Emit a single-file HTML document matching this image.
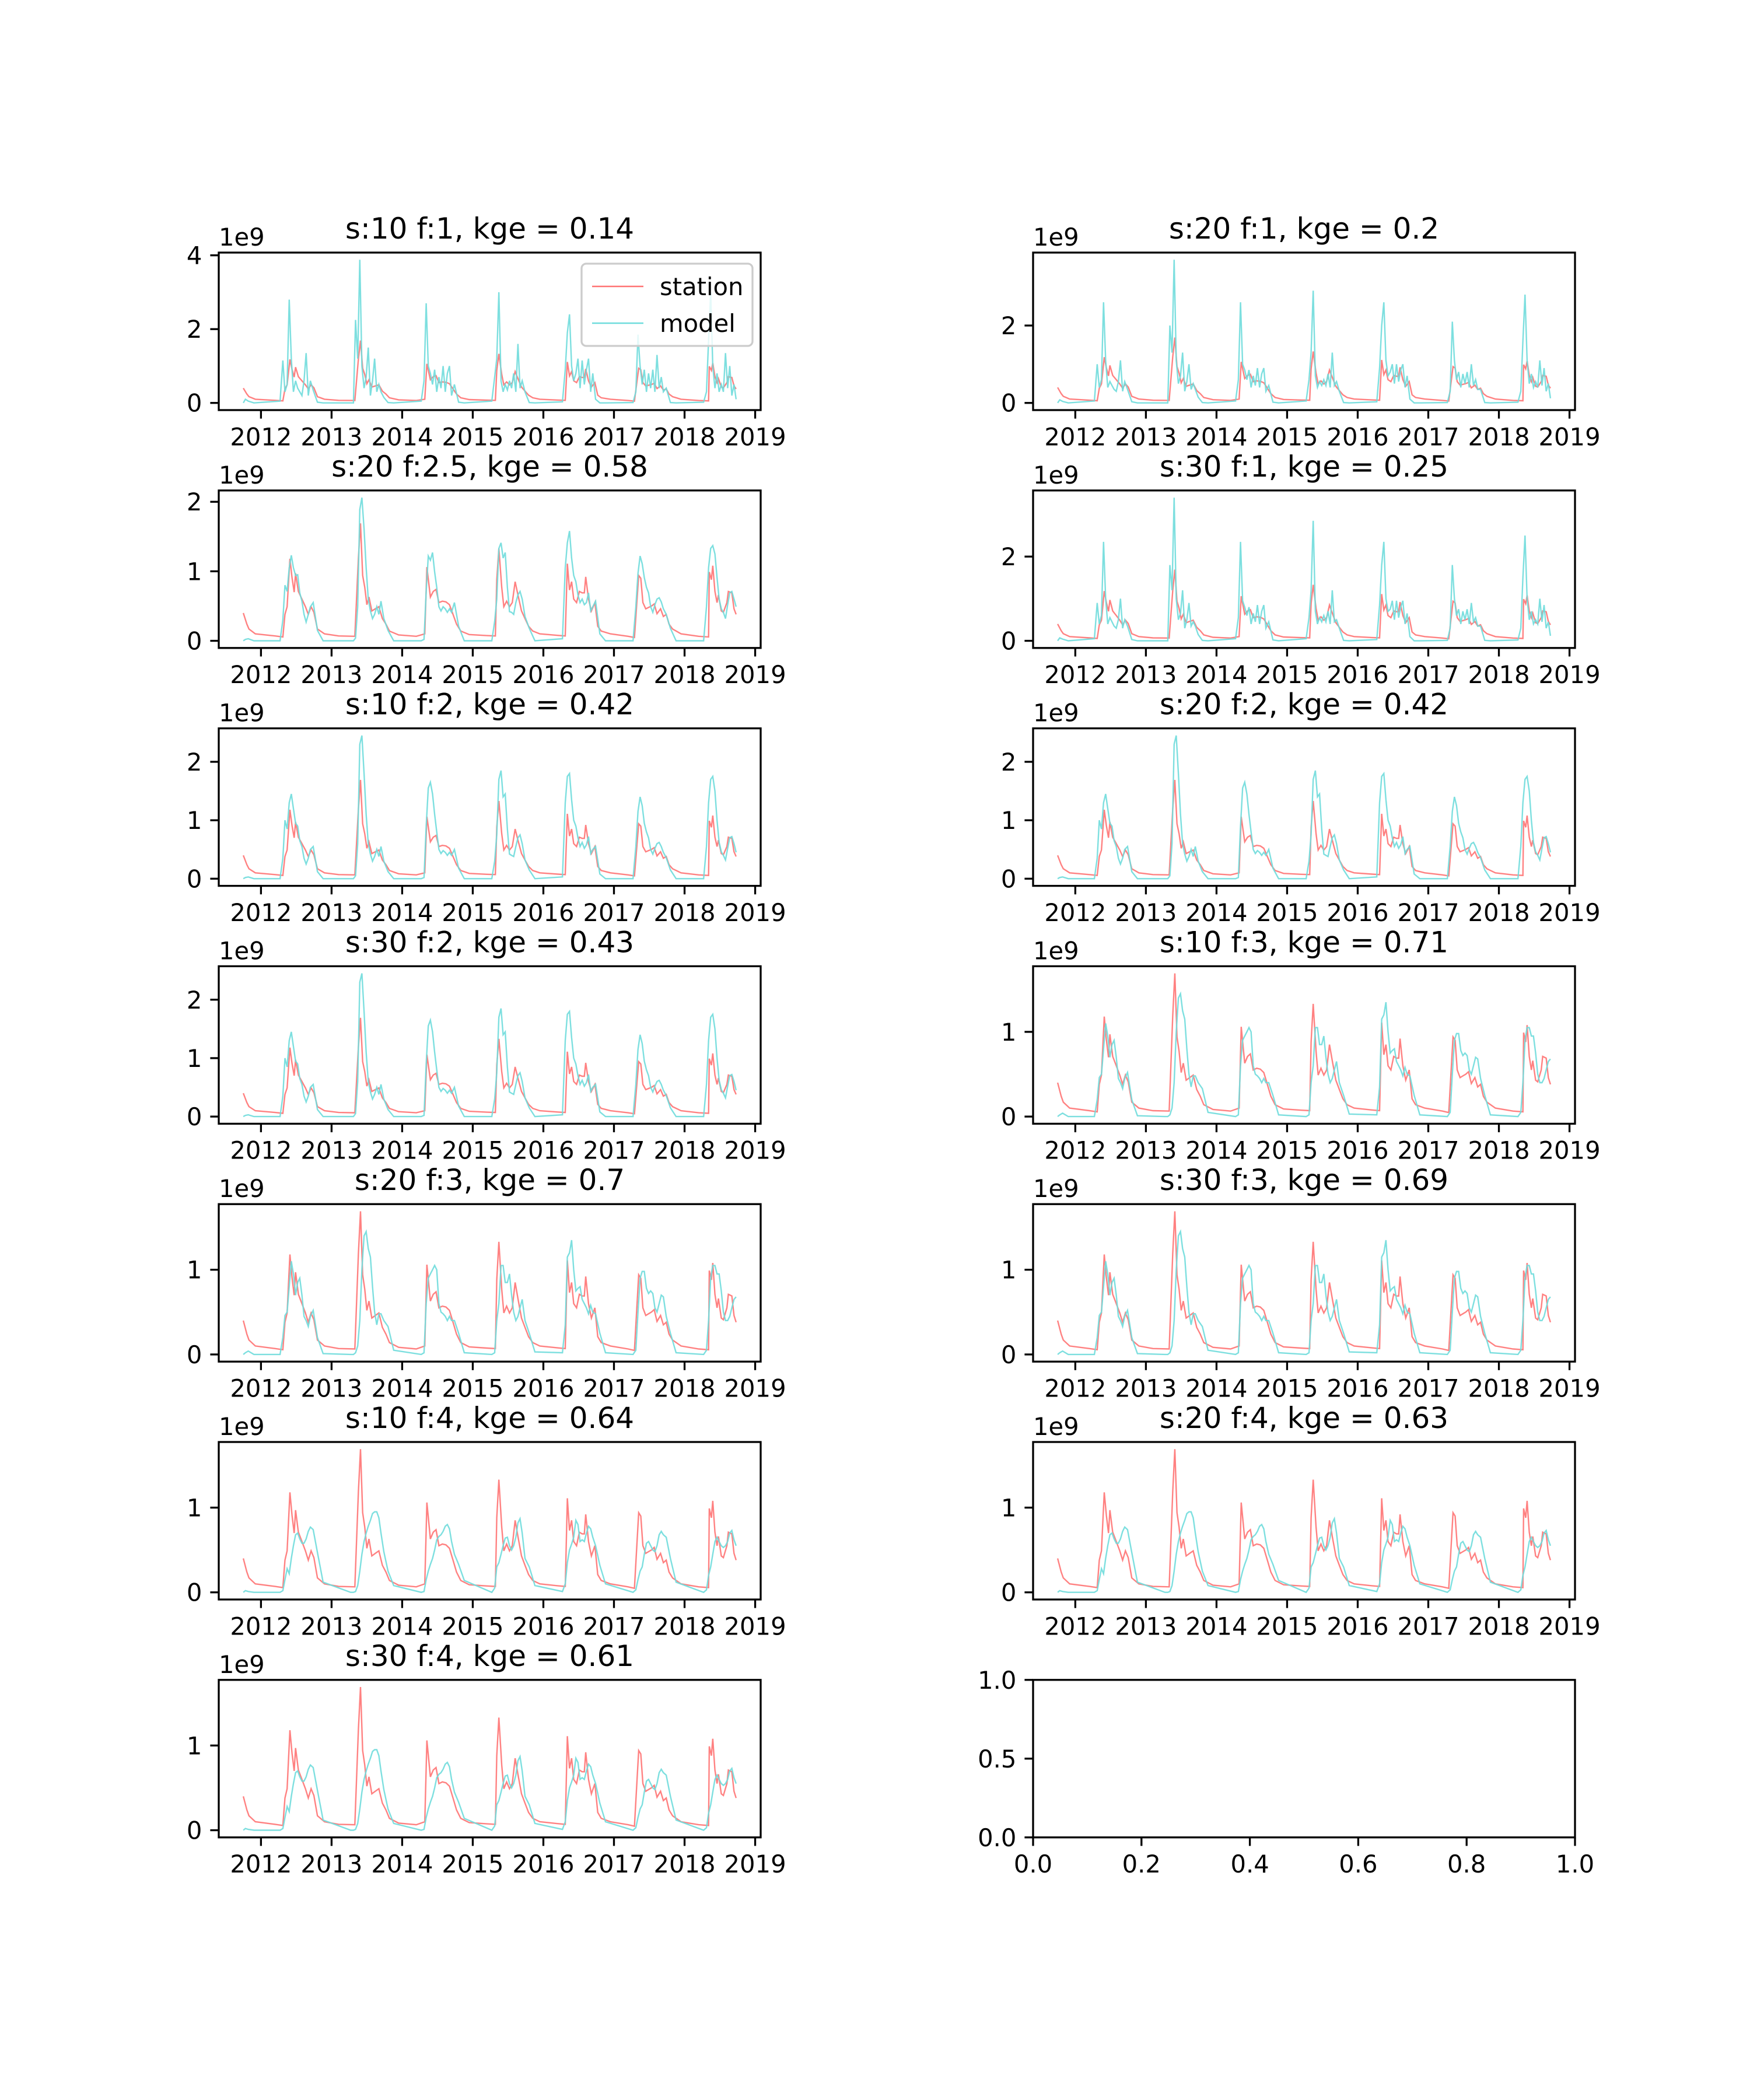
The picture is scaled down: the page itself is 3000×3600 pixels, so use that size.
<!DOCTYPE html>
<html><head><meta charset="utf-8"><style>
html,body{margin:0;padding:0;background:#fff;}
svg{display:block;font-family:"DejaVu Sans","Liberation Sans",sans-serif;}
</style></head>
<body>
<svg id="fig" xmlns="http://www.w3.org/2000/svg" width="3000" height="3600" viewBox="0 0 3000 3600">
<rect width="3000" height="3600" fill="#fff"/>
</svg>
<script>
// ---- data (values in units of 1e9) ----
const stationDates = [2011.75,2011.80,2011.83,2011.92,2012.2,2012.31,2012.34,2012.37,2012.41,2012.44,2012.47,2012.49,2012.53,2012.58,2012.63,2012.67,2012.71,2012.75,2012.80,2012.90,2013.1,2013.33,2013.38,2013.41,2013.44,2013.47,2013.50,2013.53,2013.57,2013.62,2013.67,2013.72,2013.77,2013.82,2013.95,2014.2,2014.32,2014.35,2014.40,2014.44,2014.48,2014.52,2014.57,2014.62,2014.67,2014.72,2014.77,2014.83,2014.95,2015.2,2015.32,2015.34,2015.37,2015.41,2015.44,2015.48,2015.52,2015.56,2015.60,2015.64,2015.69,2015.74,2015.79,2015.85,2015.95,2016.2,2016.31,2016.34,2016.37,2016.40,2016.43,2016.47,2016.51,2016.55,2016.58,2016.60,2016.64,2016.68,2016.73,2016.77,2016.82,2016.95,2017.2,2017.29,2017.32,2017.35,2017.38,2017.41,2017.45,2017.49,2017.53,2017.57,2017.61,2017.66,2017.70,2017.74,2017.78,2017.83,2017.95,2018.2,2018.34,2018.35,2018.38,2018.40,2018.43,2018.46,2018.48,2018.52,2018.55,2018.60,2018.62,2018.67,2018.70,2018.73];
const stationValues = [0.40,0.24,0.17,0.10,0.07,0.056,0.38,0.49,1.18,0.91,0.70,0.97,0.71,0.60,0.49,0.38,0.49,0.41,0.17,0.10,0.07,0.065,1.19,1.69,0.94,0.77,0.52,0.63,0.43,0.46,0.49,0.32,0.24,0.14,0.084,0.065,0.10,1.06,0.63,0.71,0.74,0.55,0.57,0.56,0.52,0.38,0.24,0.14,0.09,0.075,0.07,0.88,1.33,0.77,0.49,0.57,0.49,0.55,0.85,0.66,0.43,0.32,0.21,0.14,0.10,0.078,0.07,1.11,0.73,0.85,0.60,0.55,0.71,0.69,0.69,0.92,0.60,0.43,0.55,0.21,0.14,0.10,0.065,0.048,0.49,0.94,0.90,0.55,0.46,0.48,0.50,0.53,0.39,0.46,0.35,0.38,0.24,0.17,0.10,0.065,0.056,0.99,0.88,1.08,0.71,0.55,0.66,0.43,0.41,0.55,0.71,0.69,0.46,0.38];

const leadDates = [2011.75,2011.78,2011.82,2011.90];
const modelYears = [2012,2013,2014,2015,2016,2017,2018];
const seasonOffsets = [0.27,0.31,0.34,0.37,0.40,0.43,0.46,0.49,0.52,0.55,0.58,0.61,0.64,0.67,0.70,0.74,0.80,0.88];
const endDate = 2018.73;

const modelF1s10 = [0,0.1,0.05,0,
 0.05,1.15,0.3,0.5,2.8,1.2,0.3,0.6,0.4,0.3,0.2,0.6,1.35,0.2,0.6,0.35,0.02,0,
 0,0,2.25,1.2,3.88,1.0,0.4,0.7,1.5,0.2,0.6,1.2,0.3,0.5,0.3,0.15,0.01,0,
 0.05,0.6,2.7,1.0,0.8,0.5,0.9,0.3,0.7,0.4,1.0,0.3,0.8,1.0,0.2,0.5,0.02,0,
 0.05,0.7,1.2,3.0,0.6,0.3,0.5,0.35,0.6,0.4,0.8,0.3,1.6,0.4,0.6,0.3,0.01,0,
 0.03,0.9,1.9,2.4,1.0,0.6,0.8,1.2,0.4,1.15,0.5,0.9,1.2,0.3,0.8,0.1,0,0,
 0.01,0.3,1.85,1.0,0.5,0.9,0.3,0.8,0.4,0.9,0.3,1.3,0.4,0.7,0.3,0.4,0.01,0,
 0.02,0.3,1.7,3.0,1.0,0.4,0.8,0.3,0.5,0.3,1.35,0.4,1.0,0.2,0.5,0.1];
const modelF1s20 = [0,0.08,0.04,0,
 0.05,1.0,0.4,0.6,2.6,1.1,0.4,0.55,0.45,0.35,0.3,0.55,1.1,0.3,0.55,0.35,0.03,0,
 0,0,2.0,1.3,3.7,1.1,0.5,0.7,1.3,0.3,0.55,1.0,0.35,0.5,0.35,0.15,0.01,0,
 0.05,0.6,2.6,1.0,0.85,0.6,0.85,0.4,0.7,0.45,0.9,0.4,0.75,0.9,0.3,0.45,0.02,0,
 0.05,0.6,1.3,2.9,0.7,0.4,0.55,0.45,0.6,0.45,0.75,0.4,1.3,0.45,0.55,0.3,0.01,0,
 0.03,0.9,2.0,2.6,1.1,0.7,0.8,1.0,0.5,1.0,0.55,0.85,1.0,0.4,0.7,0.1,0,0,
 0.01,0.3,2.1,1.1,0.6,0.8,0.4,0.75,0.5,0.8,0.4,1.0,0.45,0.6,0.35,0.35,0.01,0,
 0.02,0.3,1.6,2.8,1.1,0.5,0.75,0.4,0.55,0.4,1.1,0.45,0.9,0.3,0.5,0.12];
const modelF1s30 = [0,0.07,0.04,0,
 0.05,0.9,0.4,0.6,2.35,1.0,0.4,0.55,0.45,0.35,0.3,0.5,1.0,0.3,0.5,0.35,0.03,0,
 0,0,1.8,1.2,3.4,1.0,0.5,0.65,1.2,0.3,0.5,0.9,0.35,0.45,0.35,0.15,0.01,0,
 0.05,0.55,2.35,0.95,0.8,0.6,0.8,0.4,0.65,0.45,0.85,0.4,0.7,0.85,0.3,0.45,0.02,0,
 0.05,0.55,1.2,2.85,0.7,0.4,0.55,0.45,0.6,0.45,0.7,0.4,1.2,0.45,0.5,0.3,0.01,0,
 0.03,0.85,1.8,2.35,1.0,0.7,0.75,0.95,0.5,0.95,0.55,0.8,0.95,0.4,0.65,0.1,0,0,
 0.01,0.3,1.8,1.0,0.6,0.75,0.4,0.7,0.5,0.75,0.4,0.9,0.45,0.55,0.35,0.35,0.01,0,
 0.02,0.3,1.5,2.5,1.0,0.5,0.7,0.4,0.5,0.4,1.0,0.45,0.85,0.3,0.45,0.12];
const modelF25 = [0,0.02,0.03,0,
 0,0.3,0.80,0.71,1.05,1.23,1.05,0.94,0.95,0.69,0.57,0.38,0.27,0.38,0.49,0.55,0.15,0,
 0,0,0.04,0.49,1.89,2.06,1.61,1.05,0.60,0.43,0.32,0.38,0.49,0.38,0.57,0.32,0.15,0,
 0,0.02,0.71,1.22,1.16,1.27,0.99,0.77,0.49,0.43,0.49,0.46,0.41,0.46,0.41,0.55,0.21,0,
 0,0.28,0.60,1.33,1.41,1.19,1.27,0.77,0.42,0.41,0.38,0.55,0.66,0.71,0.60,0.35,0.18,0,
 0.03,1.05,1.41,1.58,1.19,0.94,0.85,0.66,0.55,0.60,0.52,0.55,0.69,0.43,0.49,0.57,0.10,0,
 0,0.49,0.97,1.22,1.11,0.91,0.77,0.69,0.49,0.41,0.52,0.60,0.62,0.56,0.46,0.38,0.18,0,
 0,0.49,1.05,1.33,1.37,1.25,0.91,0.60,0.46,0.41,0.32,0.52,0.69,0.71,0.60,0.49];
const modelF2 = [0,0.02,0.03,0,
 0,0.35,1.0,0.85,1.30,1.45,1.20,0.95,0.90,0.65,0.55,0.35,0.25,0.35,0.50,0.55,0.12,0,
 0,0,0.05,0.6,2.3,2.45,1.8,1.1,0.6,0.42,0.30,0.38,0.50,0.38,0.55,0.30,0.12,0,
 0,0.02,0.9,1.55,1.65,1.45,1.1,0.8,0.5,0.43,0.48,0.45,0.40,0.45,0.40,0.50,0.18,0,
 0,0.3,0.75,1.7,1.85,1.4,1.45,0.85,0.42,0.40,0.38,0.55,0.70,0.75,0.60,0.32,0.15,0,
 0.03,1.3,1.75,1.8,1.35,1.0,0.9,0.7,0.55,0.62,0.52,0.58,0.72,0.43,0.50,0.55,0.08,0,
 0,0.55,1.15,1.40,1.25,0.95,0.8,0.7,0.5,0.42,0.52,0.6,0.62,0.55,0.45,0.36,0.15,0,
 0,0.55,1.3,1.7,1.75,1.5,1.0,0.62,0.46,0.4,0.32,0.52,0.7,0.72,0.6,0.45];
const modelF3 = [0,0.02,0.04,0,
 0,0.2,0.46,0.50,0.80,1.10,0.95,0.70,0.85,0.90,0.70,0.45,0.40,0.33,0.45,0.52,0.20,0.01,
 0,0,0.02,0.10,0.40,1.00,1.40,1.45,1.25,1.15,0.80,0.50,0.35,0.48,0.48,0.40,0.33,0.05,
 0,0.02,0.60,0.90,0.95,1.00,1.05,1.00,0.60,0.50,0.48,0.45,0.40,0.45,0.40,0.40,0.25,0.02,
 0,0.02,0.40,0.60,1.05,1.05,0.85,0.85,0.95,0.70,0.50,0.40,0.45,0.55,0.65,0.40,0.25,0.03,
 0.02,0.35,1.15,1.20,1.35,1.00,0.75,0.78,0.80,0.65,0.60,0.55,0.48,0.58,0.50,0.48,0.25,0.02,
 0,0.05,0.50,0.90,0.98,0.98,0.78,0.72,0.75,0.72,0.55,0.50,0.60,0.70,0.68,0.45,0.25,0.02,
 0,0.05,0.40,0.90,1.05,1.05,0.95,0.95,0.75,0.50,0.40,0.40,0.45,0.55,0.65,0.68];
const modelF4 = [0,0.02,0.01,0,
 0,0.02,0.15,0.28,0.22,0.40,0.55,0.68,0.70,0.63,0.58,0.58,0.63,0.72,0.77,0.74,0.47,0.12,
 0,0,0.01,0.08,0.25,0.45,0.60,0.70,0.78,0.85,0.93,0.95,0.95,0.88,0.70,0.48,0.25,0.08,
 0,0.01,0.15,0.25,0.33,0.40,0.50,0.62,0.66,0.68,0.72,0.78,0.80,0.75,0.60,0.45,0.33,0.14,
 0,0.05,0.30,0.35,0.45,0.55,0.64,0.65,0.55,0.50,0.55,0.65,0.82,0.87,0.70,0.40,0.30,0.08,
 0.01,0.10,0.35,0.50,0.57,0.65,0.85,0.80,0.60,0.62,0.60,0.70,0.78,0.75,0.65,0.55,0.32,0.10,
 0,0.03,0.15,0.25,0.30,0.45,0.58,0.60,0.55,0.50,0.48,0.55,0.68,0.72,0.68,0.65,0.40,0.12,
 0,0.03,0.20,0.30,0.45,0.60,0.65,0.60,0.55,0.53,0.55,0.60,0.70,0.73,0.62,0.55];

const panelTitles = ["s:10 f:1, kge = 0.14","s:20 f:1, kge = 0.2","s:20 f:2.5, kge = 0.58","s:30 f:1, kge = 0.25","s:10 f:2, kge = 0.42","s:20 f:2, kge = 0.42","s:30 f:2, kge = 0.43","s:10 f:3, kge = 0.71","s:20 f:3, kge = 0.7","s:30 f:3, kge = 0.69","s:10 f:4, kge = 0.64","s:20 f:4, kge = 0.63","s:30 f:4, kge = 0.61"];
const panelModels = [modelF1s10,modelF1s20,modelF25,modelF1s30,modelF2,modelF2,modelF2,modelF3,modelF3,modelF3,modelF4,modelF4,modelF4];
const panelYTicks = [[0,2,4],[0,2],[0,1,2],[0,2],[0,1,2],[0,1,2],[0,1,2],[0,1],[0,1],[0,1],[0,1],[0,1],[0,1]];
const xTickYears = [2012,2013,2014,2015,2016,2017,2018,2019];
const emptyTicks = [0,0.2,0.4,0.6,0.8,1.0];
const emptyYTicks = [0,0.5,1.0];

// ---- build model dates ----
const modelDates = leadDates.slice();
modelYears.forEach(y=>{
  seasonOffsets.forEach(o=>{ if(y<2018 || o<=0.70) modelDates.push(+(y+o).toFixed(3)); });
});
modelDates.push(endDate);

// ---- layout ----
const NS="http://www.w3.org/2000/svg";
const svg=document.getElementById('fig');
const colX=[375,1771], axW=929, axH=270, rowTop0=433, rowPitch=407.8;
const FS=41.7, TFS=50, TICK=14.6;
function el(tag,attrs,parent){const e=document.createElementNS(NS,tag);for(const k in attrs)e.setAttribute(k,attrs[k]);(parent||svg).appendChild(e);return e;}
function txt(s,attrs,parent){const t=el('text',attrs,parent);t.textContent=s;return t;}

const xmin=2011.402, xmax=2019.078;
function makePanel(i){
  const r=Math.floor(i/2), c=i%2;
  const L=colX[c], T=rowTop0+r*rowPitch, R=L+axW, B=T+axH;
  const g=el('g',{});
  
  
  const model=panelModels[i];
  const n=Math.min(model.length,modelDates.length);
  let lo=0,hi=0;
  stationValues.forEach(v=>{hi=Math.max(hi,v);lo=Math.min(lo,v);});
  for(let k=0;k<n;k++){hi=Math.max(hi,model[k]);lo=Math.min(lo,model[k]);}
  const pad=(hi-lo)*0.05, y0=lo-pad, y1=hi+pad;
  const sx=d=>L+(d-xmin)/(xmax-xmin)*axW;
  const sy=v=>B-(v-y0)/(y1-y0)*axH;
  const clip=el('clipPath',{id:'clip'+i},g);el('rect',{x:L,y:T,width:axW,height:axH},clip);
  let p='';const ns=Math.min(stationDates.length,stationValues.length);
  for(let k=0;k<ns;k++)p+=(k?'L':'M')+sx(stationDates[k]).toFixed(1)+','+sy(stationValues[k]).toFixed(1);
  const sl=el('path',{d:p,fill:'none',stroke:'#ff7373','stroke-opacity':'0.9','stroke-width':'2.4','clip-path':'url(#clip'+i+')'},g);
  
  
  p='';
  for(let k=0;k<n;k++)p+=(k?'L':'M')+sx(modelDates[k]).toFixed(1)+','+sy(model[k]).toFixed(1);
  const ml=el('path',{d:p,fill:'none',stroke:'#6fdcdc','stroke-opacity':'0.9','stroke-width':'2.4','clip-path':'url(#clip'+i+')'},g);
  
  
  el('rect',{x:L,y:T,width:axW,height:axH,fill:'none',stroke:'#000','stroke-width':'3.3'},g);
  xTickYears.forEach(yr=>{const x=sx(yr);el('line',{x1:x,y1:B,x2:x,y2:B+TICK,stroke:'#000','stroke-width':'3.3'},g);
    const t=txt(String(yr),{x:x,y:B+TICK+14+FS*0.76,'font-size':FS,'text-anchor':'middle'},g);
    
    });
  panelYTicks[i].forEach(v=>{const y=sy(v);el('line',{x1:L-TICK,y1:y,x2:L,y2:y,stroke:'#000','stroke-width':'3.3'},g);
    const t=txt(String(v),{x:L-TICK-14,y:y+FS*0.36,'font-size':FS,'text-anchor':'end'},g);
    
    });
  const off=txt('1e9',{x:L,y:T-12,'font-size':FS},g);
  
  
  const tt=txt(panelTitles[i],{x:L+axW/2,y:T-24,'font-size':TFS,'text-anchor':'middle'},g);
  
  
  if(i===0){
    const lg=el('g',{},g);
    
    
    el('rect',{x:997,y:452,width:293,height:141,rx:8,fill:'#fff','fill-opacity':'0.8',stroke:'#cccccc','stroke-width':'3.3'},lg);
    el('line',{x1:1015,y1:491,x2:1103,y2:491,stroke:'#ff7373','stroke-width':'2.4'},lg);
    const a=txt('station',{x:1131,y:491+15,'font-size':FS},lg);
    
    
    el('line',{x1:1015,y1:554,x2:1103,y2:554,stroke:'#6fdcdc','stroke-width':'2.4'},lg);
    const b=txt('model',{x:1131,y:554+15,'font-size':FS},lg);
    
    
  }
}
for(let i=0;i<13;i++)makePanel(i);

(function(){
  const L=colX[1],T=rowTop0+6*rowPitch,R=L+axW,B=T+axH;
  const g=el('g',{});
  
  
  el('rect',{x:L,y:T,width:axW,height:axH,fill:'none',stroke:'#000','stroke-width':'3.3'},g);
  emptyTicks.forEach(v=>{const x=L+v*axW;el('line',{x1:x,y1:B,x2:x,y2:B+TICK,stroke:'#000','stroke-width':'3.3'},g);
    const t=txt(v.toFixed(1),{x:x,y:B+TICK+14+FS*0.76,'font-size':FS,'text-anchor':'middle'},g);
    
    });
  emptyYTicks.forEach(v=>{const y=B-v*axH;el('line',{x1:L-TICK,y1:y,x2:L,y2:y,stroke:'#000','stroke-width':'3.3'},g);
    const t=txt(v.toFixed(1),{x:L-TICK-14,y:y+FS*0.36,'font-size':FS,'text-anchor':'end'},g);
    
    });
})();
</script>
</body></html>
